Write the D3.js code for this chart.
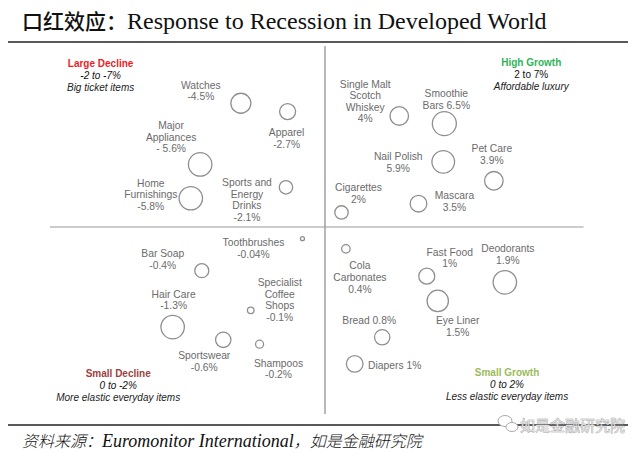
<!DOCTYPE html>
<html><head><meta charset="utf-8">
<script src="https://cdn.jsdelivr.net/npm/d3@7"></script>
<style>
html,body{margin:0;padding:0;background:#fff;}
svg{display:block;}
</style></head>
<body>
<svg id="chart" width="640" height="453"></svg>
<script>
// ---------- data ----------
const categories = ["Watches","Apparel","Major Appliances","Home Furnishings","Sports and Energy Drinks",
  "Single Malt Scotch Whiskey","Smoothie Bars","Nail Polish","Pet Care","Mascara","Cigarettes",
  "Bar Soap","Toothbrushes","Hair Care","Specialist Coffee Shops","Sportswear","Shampoos",
  "Cola Carbonates","Fast Food","Deodorants","Eye Liner","Bread","Diapers"];
const growth = ["-4.5%","-2.7%","- 5.6%","-5.8%","-2.1%",
  "4%","6.5%","5.9%","3.9%","3.5%","2%",
  "-0.4%","-0.04%","-1.3%","-0.1%","-0.6%","-0.2%",
  "0.4%","1%","1.9%","1.5%","0.8%","1%"];
const labelLines = [
  ["Watches","-4.5%"],["Apparel","-2.7%"],["Major","Appliances","- 5.6%"],["Home","Furnishings","-5.8%"],
  ["Sports and","Energy","Drinks","-2.1%"],
  ["Single Malt","Scotch","Whiskey","4%"],["Smoothie","Bars 6.5%"],["Nail Polish","5.9%"],["Pet Care","3.9%"],
  ["Mascara","3.5%"],["Cigarettes","2%"],
  ["Bar Soap","-0.4%"],["Toothbrushes","-0.04%"],["Hair Care","-1.3%"],["Specialist","Coffee","Shops","-0.1%"],
  ["Sportswear","-0.6%"],["Shampoos","-0.2%"],
  ["Cola","Carbonates","0.4%"],["Fast Food","1%"],["Deodorants","1.9%"],["Eye Liner","1.5%"],
  ["Bread 0.8%"],["Diapers 1%"]];
// position on the (unlabelled) map, 0..100 each way, 50 = dividing line
const xValues = [34.7,43.2,27.3,25.6,42.9, 63.5,71.7,71.5,80.7,67.0,53.0, 27.6,45.9,22.3,36.5,31.5,38.1, 53.8,68.5,82.7,70.5,60.4,55.4];
const yValues = [84.0,81.7,67.2,57.9,60.9, 80.5,78.4,67.9,62.7,56.4,54.0, 38.0,46.8,22.5,27.1,19.0,17.8, 44.0,36.5,34.8,29.7,19.7,12.4];
const sizeValues = [100,64,137,137,45, 86,144,128,86,69,45, 49,4,137,11,59,16, 18,64,137,114,59,69];

const quadTitles = ["Large Decline","High Growth","Small Decline","Small Growth"];
const quadRanges = ["-2 to -7%","2 to 7%","0 to -2%","0 to 2%"];
const quadNotes = ["Big ticket items","Affordable luxury","More elastic everyday items","Less elastic everyday items"];
const quadX = [9.2, 87.5, 12.4, 83.1];
const quadY = [95.0, 95.3, 9.8, 10.1];

const titleCN = "口红效应：";
const titleEN = "Response to Recession in Developed World";
const sourceCN1 = "资料来源：";
const sourceEN = "Euromonitor International";
const sourceCN2 = "，如是金融研究院";
const watermark = "如是金融研究院";

// ---------- layout (label offsets in px from bubble centre, first line centre) ----------
const labelOffsets = [[-40,-18],[-1,21],[-29,-39],[-40,-15],[-39,-5],
  [-34,-32],[2,-30],[-45,-5],[-2,-32],[36,-8],[17,-25],
  [-39,-17],[-49,4],[1,-33],[29,-28],[-19,16],[19,19],
  [14,17],[23,-24],[3,-34],[20,20],[-13,-17],[40,2]];

const svg = d3.select("#chart");
const x = d3.scaleLinear().domain([0,100]).range([50,600]);
const y = d3.scaleLinear().domain([0,100]).range([409,45]);
const r = d3.scaleSqrt().domain([0,144]).range([0,12]);

// title
const t = svg.append("text").attr("x",22).attr("y",29).attr("fill","#111");
t.append("tspan").text(titleCN).attr("font-family","'Noto Sans CJK SC'").attr("font-size",21).attr("font-weight",500);
t.append("tspan").text(titleEN).attr("font-family","'Liberation Serif'").attr("font-size",24);
svg.append("line").attr("x1",8).attr("x2",628).attr("y1",42).attr("y2",42).attr("stroke","#222").attr("stroke-width",1.6);

// quadrant dividers
svg.append("line").attr("x1",x(50)).attr("x2",x(50)).attr("y1",46).attr("y2",414).attr("stroke","#888").attr("stroke-width",1.2);
svg.append("line").attr("x1",x(0)).attr("x2",x(97)).attr("y1",y(50)).attr("y2",y(50)).attr("stroke","#999").attr("stroke-width",1.2);

// quadrant labels
const qColors = ["#ee1c25","#2fb35a","#a0413f","#9bbb59"];
quadTitles.forEach((q,i)=>{
  const g = svg.append("g").attr("font-family","'Liberation Sans', Arial").attr("font-size",10).attr("text-anchor","middle");
  g.append("text").attr("x",x(quadX[i])).attr("y",y(quadY[i])+3.5).attr("fill",qColors[i]).attr("font-weight",700).text(q);
  g.append("text").attr("x",x(quadX[i])).attr("y",y(quadY[i])+15.5).attr("fill","#111")
    .attr("font-style", i===1 ? "normal" : "italic").text(quadRanges[i]);
  g.append("text").attr("x",x(quadX[i])).attr("y",y(quadY[i])+27.5).attr("fill","#222").attr("font-style","italic").text(quadNotes[i]);
});

// bubbles
const data = categories.map((c,i)=>({c, g:growth[i], lines:labelLines[i], x:xValues[i], y:yValues[i], s:sizeValues[i], off:labelOffsets[i]}));
svg.append("g").selectAll("circle").data(data).join("circle")
  .attr("cx",d=>x(d.x)).attr("cy",d=>y(d.y)).attr("r",d=>r(d.s))
  .attr("fill","#fff").attr("stroke","#8f8f8f").attr("stroke-width",1.3);

const lg = svg.append("g").attr("font-family","'Liberation Sans', Arial").attr("font-size",10.3).attr("fill","#6b6b6b").attr("text-anchor","middle");
data.forEach(d=>{
  const tx = lg.append("text").attr("x",x(d.x)+d.off[0]).attr("y",y(d.y)+d.off[1]+3.6);
  d.lines.forEach((l,j)=>{
    tx.append("tspan").attr("x",x(d.x)+d.off[0]).attr("dy", j===0?0:11.6).text(l);
  });
});

// footer
svg.append("line").attr("x1",8).attr("x2",628).attr("y1",425).attr("y2",425).attr("stroke","#222").attr("stroke-width",1.6);
const f = svg.append("text").attr("x",22).attr("y",447).attr("fill","#111").attr("font-style","italic");
f.append("tspan").text(sourceCN1).attr("font-family","'Noto Sans CJK SC'").attr("font-size",16).attr("font-weight",300);
f.append("tspan").text(sourceEN).attr("font-family","'Liberation Serif'").attr("font-size",18);
f.append("tspan").text(sourceCN2).attr("font-family","'Noto Sans CJK SC'").attr("font-size",16).attr("font-weight",300);

// watermark
const wm = svg.append("g");
wm.append("ellipse").attr("cx",505).attr("cy",421).attr("rx",7).attr("ry",5.5).attr("fill","#fff").attr("stroke","#aaa").attr("stroke-width",1);
wm.append("ellipse").attr("cx",512).attr("cy",427).attr("rx",6).attr("ry",4.5).attr("fill","#fff").attr("stroke","#aaa").attr("stroke-width",1);
wm.append("text").attr("x",520).attr("y",431).attr("font-family","'Noto Sans CJK SC'").attr("font-size",15)
  .attr("fill","#ddd").attr("stroke","#999").attr("stroke-width",0.6).attr("paint-order","stroke").text(watermark);
</script>
</body></html>
